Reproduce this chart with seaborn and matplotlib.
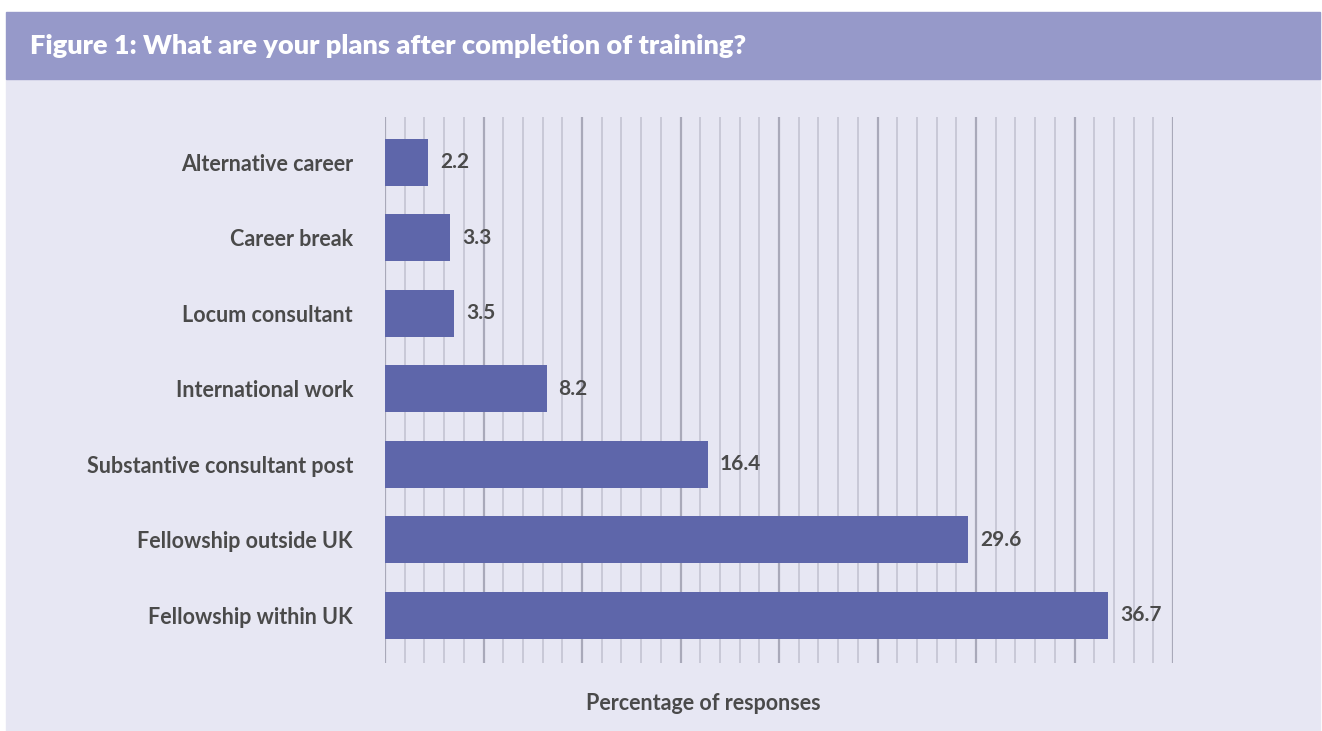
import pandas as pd
import matplotlib.pyplot as plt
import seaborn as sns
from matplotlib.patches import Rectangle

# Data:
plans = ["Alternative career", "Career break", "Locum consultant", "International work",
         "Substantive consultant post", "Fellowship outside UK", "Fellowship within UK"]
percent = [2.2, 3.3, 3.5, 8.2, 16.4, 29.6, 36.7]

df = pd.DataFrame({"Plan": plans, "Percent": percent})

bg = "#e7e7f3"
band = "#9699c9"
bar_col = "#5e66aa"
txt = "#4a4a4a"

sns.set_style("white")
plt.rcParams['font.family'] = ['Lato', 'DejaVu Sans']

fig = plt.figure(figsize=(13.22, 7.31), dpi=100)
fig.patch.set_facecolor("white")

# panel background and header band
fig.patches.append(Rectangle((6 / 1322, 0), 1314 / 1322, 1 - 79 / 731,
                             transform=fig.transFigure, color=bg, zorder=0))
fig.patches.append(Rectangle((6 / 1322, 1 - 79 / 731), 1314 / 1322, 67 / 731,
                             transform=fig.transFigure, color=band, zorder=0))
fig.text(30 / 1322, 1 - 46 / 731, "Figure 1: What are your plans after completion of training?",
         color="white", fontsize=19.5, fontweight="heavy", va="center", ha="left")

ax = fig.add_axes([385 / 1322, 1 - 663 / 731, 788 / 1322, 546 / 731])
ax.set_zorder(2)
ax.set_facecolor("none")

sns.barplot(data=df, x="Percent", y="Plan", orient="h", color=bar_col,
            saturation=1, width=0.62, linewidth=0, ax=ax, zorder=3)

ax.set_xlim(0, 40)
ax.set_ylim(6.63, -0.6)

# vertical gridlines every unit, darker every 5
for v in range(0, 41):
    major = v % 5 == 0
    ax.axvline(v, color="#a9a9b9" if major else "#c6c6d4",
               lw=1.6 if major else 1.3, zorder=1)

for p, val in zip(ax.patches, percent):
    ax.text(p.get_width() + 0.6, p.get_y() + p.get_height() / 2, f"{val:.1f}",
            va="center", ha="left", fontsize=15, fontweight="bold", color=txt, zorder=4)

ax.set_xticks([])
ax.set_xlabel("")
ax.set_ylabel("")
ax.tick_params(axis="y", length=0, pad=23)
for lab in ax.get_yticklabels():
    lab.set_fontweight("bold")
    lab.set_fontsize(15.5)
    lab.set_color(txt)
sns.despine(ax=ax, left=True, bottom=True)

fig.text(703 / 1322, 1 - 704 / 731, "Percentage of responses", ha="center", va="center",
         fontsize=15.5, fontweight="bold", color=txt)

fig.savefig("out.png", dpi=100)
